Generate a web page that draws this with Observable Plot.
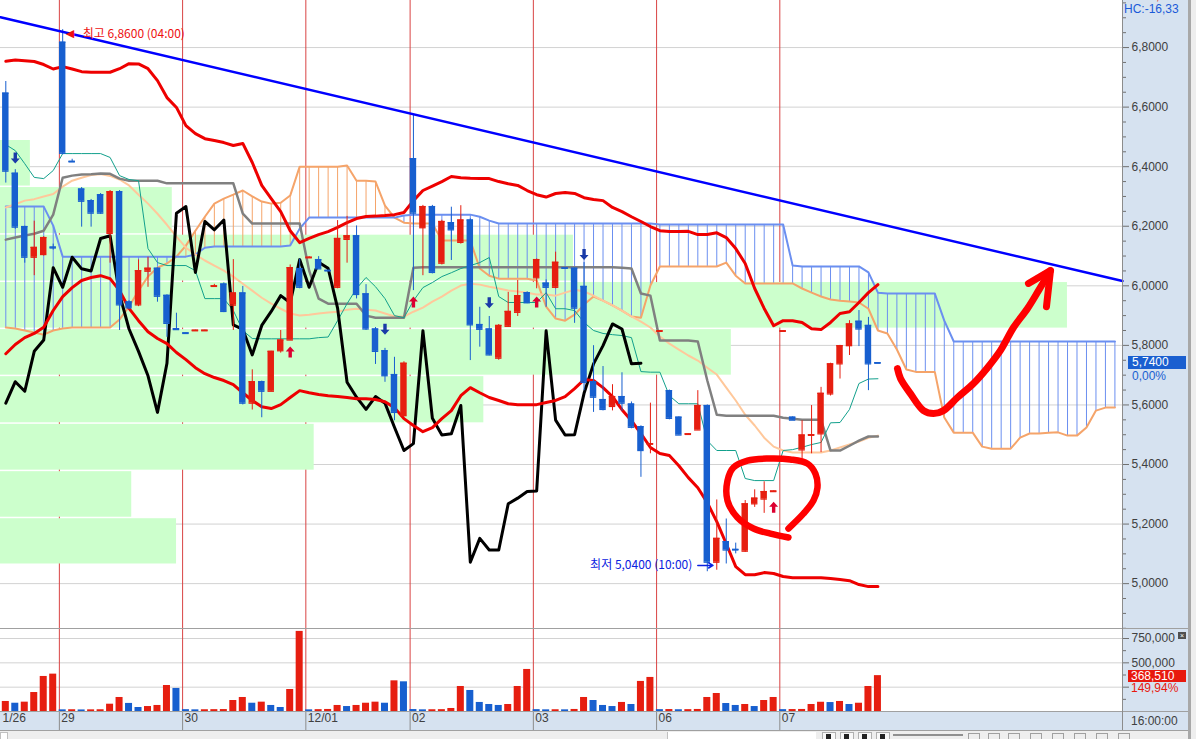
<!DOCTYPE html>
<html><head><meta charset="utf-8">
<script src="https://cdn.jsdelivr.net/npm/d3@7"></script>
<script src="https://cdn.jsdelivr.net/npm/@observablehq/plot@0.6"></script>
<style>
body{margin:0;background:#fff;font-family:'Liberation Sans','Noto Sans CJK KR',sans-serif;}
#root{position:relative;width:1196px;height:739px;overflow:hidden;background:#fff;}
.abs{position:absolute;}
.plotbox{position:absolute;left:0;}
.plotbox svg{display:block;}
</style></head><body><div id="root">
<div class="abs" style="left:1122px;top:0;width:66px;height:730px;background:#d6e2f0"></div>
<div class="abs" style="left:0;top:711px;width:1188px;height:19px;background:#d6e2f0"></div>
<div id="price" class="plotbox" style="top:0"></div>
<div id="vol" class="plotbox" style="top:629px"></div>
</div>
<script>
// ---------- DATA ----------
const open = [6.647,6.378,6.199,6.096,6.105,6.130,6.818,6.418,6.325,6.286,
6.306,6.176,6.316,5.946,5.936,6.049,6.059,5.968,5.856,5.842,
5.849,5.849,5.998,6.006,5.935,5.976,5.606,5.678,5.646,5.782,
5.818,6.058,6.094,6.088,6.052,5.995,6.156,6.168,5.973,5.855,
5.782,5.702,5.564,6.427,6.195,6.266,6.076,6.212,6.146,6.221,
5.870,5.855,5.757,5.864,5.911,5.977,6.027,6.009,5.995,6.060,
6.059,5.998,5.678,5.618,5.595,5.628,5.603,5.527,5.468,5.847,
5.648,5.559,5.501,5.516,5.598,5.072,5.141,5.115,5.109,5.268,
5.284,5.309,5.847,5.559,5.449,5.498,5.503,5.637,5.738,5.799,
5.881,5.867,5.742];
const high = [6.686,6.390,6.200,6.217,6.165,6.140,6.860,6.425,6.330,6.290,
6.310,6.320,6.320,5.950,6.087,6.096,6.060,5.970,5.908,5.842,
5.851,5.851,6.005,6.010,6.088,5.998,5.718,5.680,5.780,5.850,
6.070,6.090,6.098,6.098,6.052,6.219,6.233,6.201,6.004,5.860,
5.790,5.760,5.745,6.572,6.270,6.270,6.220,6.264,6.269,6.225,
5.928,5.897,5.870,5.978,6.018,5.980,6.090,6.020,6.113,6.062,
6.060,6.078,5.799,5.729,5.668,5.708,5.610,5.530,5.606,5.849,
5.650,5.560,5.503,5.648,5.600,5.281,5.217,5.136,5.279,5.315,
5.342,5.311,5.849,5.560,5.547,5.598,5.659,5.740,5.800,5.883,
5.917,5.894,5.742];
const low = [6.345,6.190,6.076,6.034,6.100,6.120,6.440,6.416,6.197,6.197,
6.240,6.076,5.850,5.920,5.930,5.995,5.945,5.827,5.853,5.840,
5.849,5.849,5.998,5.910,5.850,5.600,5.583,5.557,5.645,5.774,
5.818,5.990,6.094,6.057,6.050,5.990,6.076,5.956,5.850,5.736,
5.676,5.547,5.560,5.984,6.034,6.040,6.070,6.085,6.140,5.749,
5.794,5.765,5.750,5.860,5.897,5.940,5.990,5.928,5.990,6.058,
5.874,5.648,5.575,5.580,5.580,5.579,5.520,5.357,5.436,5.847,
5.550,5.499,5.501,5.516,5.040,5.045,5.066,5.100,5.105,5.256,
5.236,5.309,5.847,5.549,5.419,5.436,5.440,5.630,5.687,5.766,
5.796,5.648,5.740];
const close = [6.385,6.197,6.096,6.129,6.162,6.127,6.445,6.416,6.284,6.244,
6.244,6.316,5.936,5.926,6.051,6.059,5.965,5.874,5.853,5.840,
5.851,5.851,6.000,5.914,5.976,5.606,5.678,5.646,5.780,5.818,
6.061,5.995,6.096,6.057,6.050,6.159,6.168,5.971,5.855,5.780,
5.698,5.575,5.740,6.244,6.266,6.045,6.216,6.188,6.221,5.869,
5.854,5.768,5.867,5.914,5.967,5.943,6.088,5.995,6.079,6.059,
5.925,5.676,5.626,5.585,5.628,5.606,5.525,5.447,5.470,5.849,
5.555,5.499,5.503,5.598,5.072,5.152,5.113,5.113,5.268,5.287,
5.309,5.311,5.849,5.549,5.499,5.500,5.639,5.738,5.799,5.872,
5.855,5.738,5.740];
const volume = [103000,85000,96000,195000,360000,384000,17000,18000,16000,17000,
18000,75000,144000,83000,41000,51000,62000,267000,237000,19000,
17000,18000,19000,20000,113000,144000,85000,96000,62000,41000,
226000,823000,17000,19000,21000,62000,51000,62000,85000,96000,
85000,315000,305000,20000,17000,18000,19000,31000,257000,216000,
93000,72000,62000,72000,257000,432000,19000,17000,18000,17000,
21000,144000,113000,62000,51000,93000,72000,309000,350000,19000,
20000,18000,19000,21000,144000,185000,82000,62000,72000,51000,
113000,144000,19000,20000,21000,72000,95000,92000,103000,72000,
85000,257000,368510];
const bbUpper = [6.754,6.758,6.756,6.753,6.743,6.728,6.736,6.728,6.719,6.717,
6.717,6.717,6.729,6.746,6.745,6.729,6.689,6.632,6.599,6.538,
6.511,6.494,6.488,6.481,6.471,6.478,6.414,6.337,6.293,6.249,
6.185,6.145,6.159,6.172,6.182,6.196,6.212,6.226,6.233,6.234,
6.236,6.239,6.246,6.286,6.320,6.335,6.350,6.367,6.363,6.361,
6.360,6.360,6.350,6.343,6.337,6.320,6.306,6.298,6.310,6.313,
6.310,6.296,6.290,6.286,6.263,6.249,6.232,6.216,6.199,6.185,
6.182,6.182,6.183,6.172,6.172,6.178,6.162,6.125,6.075,5.991,
5.924,5.866,5.883,5.883,5.877,5.856,5.853,5.877,5.907,5.913,
5.944,5.977,6.004];
const bbLower = [5.772,5.803,5.826,5.840,5.861,5.917,5.964,5.994,6.018,6.028,
6.034,6.024,5.984,5.924,5.883,5.846,5.823,5.806,5.776,5.752,
5.725,5.705,5.692,5.682,5.668,5.641,5.615,5.594,5.588,5.601,
5.625,5.648,5.641,5.635,5.631,5.628,5.625,5.621,5.621,5.618,
5.611,5.591,5.554,5.531,5.510,5.524,5.554,5.581,5.631,5.658,
5.641,5.625,5.615,5.604,5.601,5.601,5.601,5.608,5.615,5.628,
5.655,5.685,5.682,5.658,5.628,5.584,5.547,5.504,5.457,5.437,
5.430,5.396,5.356,5.322,5.272,5.208,5.134,5.057,5.030,5.030,
5.037,5.034,5.024,5.020,5.020,5.020,5.020,5.017,5.014,5.010,
4.997,4.990,4.990];
const midLine = [6.263,6.274,6.286,6.291,6.300,6.308,6.333,6.353,6.363,6.372,
6.375,6.369,6.357,6.337,6.306,6.276,6.242,6.205,6.165,6.128,
6.105,6.085,6.068,6.051,6.031,6.007,5.984,5.960,5.940,5.923,
5.907,5.900,5.903,5.907,5.910,5.913,5.920,5.923,5.920,5.917,
5.907,5.897,5.897,5.913,5.927,5.947,5.964,5.984,6.001,6.007,
6.004,5.997,5.991,5.984,5.981,5.977,5.971,5.971,5.967,5.977,
5.987,5.981,5.967,5.950,5.934,5.917,5.897,5.880,5.860,5.830,
5.806,5.786,5.766,5.749,5.725,5.702,5.658,5.615,5.567,5.531,
5.490,5.460,5.447,5.440,5.440,5.440,5.440,5.447,5.457,5.467,
5.477,5.490,5.497];
const tenkan = [6.474,6.454,6.410,6.364,6.360,6.387,6.444,6.444,6.444,6.444,
6.444,6.431,6.370,6.357,6.353,6.125,6.078,6.068,6.068,6.068,
6.051,5.957,5.957,5.957,5.917,5.850,5.823,5.822,5.822,5.822,
5.822,5.822,5.822,5.826,5.828,5.883,5.940,5.991,6.028,5.997,
5.957,5.900,5.893,5.950,5.994,6.011,6.031,6.044,6.058,6.068,
6.078,6.095,5.964,5.944,5.944,5.944,5.944,5.977,5.923,5.923,
5.917,5.877,5.850,5.840,5.836,5.833,5.826,5.712,5.710,5.710,
5.631,5.604,5.604,5.604,5.480,5.447,5.447,5.447,5.353,5.346,
5.346,5.346,5.447,5.450,5.458,5.467,5.474,5.540,5.541,5.585,
5.672,5.687,5.688];
const kijun = [6.155,6.162,6.169,6.175,6.185,6.239,6.363,6.370,6.374,6.375,
6.377,6.376,6.360,6.353,6.353,6.353,6.353,6.344,6.344,6.344,
6.344,6.344,6.344,6.344,6.344,6.242,6.209,6.209,6.209,6.209,
6.209,6.209,6.051,5.957,5.940,5.940,5.940,5.940,5.900,5.893,
5.893,5.893,5.893,6.061,6.062,6.062,6.062,6.062,6.062,6.062,
6.062,6.062,6.062,6.062,6.062,6.062,6.062,6.062,6.062,6.062,
6.062,6.062,6.062,6.062,6.062,6.061,6.058,5.974,5.967,5.816,
5.816,5.816,5.816,5.813,5.682,5.567,5.564,5.564,5.564,5.564,
5.564,5.564,5.557,5.554,5.550,5.550,5.550,5.447,5.447,5.463,
5.480,5.494,5.494];
const spanA = [6.266,6.266,6.266,6.266,6.266,6.202,6.098,6.098,6.098,6.098,
6.098,6.098,6.098,6.098,6.098,6.098,6.098,6.098,6.098,6.098,
6.105,6.128,6.132,6.132,6.132,6.132,6.132,6.132,6.132,6.132,
6.135,6.192,6.229,6.229,6.229,6.229,6.229,6.229,6.229,6.229,
6.229,6.229,6.236,6.239,6.239,6.239,6.239,6.239,6.239,6.239,
6.232,6.219,6.209,6.209,6.209,6.209,6.209,6.209,6.209,6.209,
6.209,6.209,6.209,6.209,6.209,6.209,6.209,6.209,6.209,6.206,
6.206,6.206,6.206,6.206,6.206,6.206,6.206,6.206,6.206,6.206,
6.206,6.206,6.206,6.068,6.065,6.065,6.065,6.065,6.065,6.065,
6.065,6.045,5.977,5.974,5.974,5.974,5.974,5.974,5.974,5.883,
5.813,5.813,5.813,5.813,5.813,5.813,5.813,5.813,5.813,5.813,
5.813,5.813,5.813,5.813,5.813,5.813,5.813,5.813];
const spanB = [5.860,5.857,5.850,5.843,5.836,5.850,5.857,5.860,5.860,5.860,
5.860,5.860,5.887,5.930,5.984,6.031,6.061,6.075,6.098,6.135,
6.185,6.232,6.276,6.293,6.306,6.320,6.300,6.283,6.276,6.279,
6.303,6.400,6.400,6.400,6.400,6.400,6.404,6.353,6.353,6.350,
6.269,6.229,6.212,6.209,6.209,6.209,6.152,6.152,6.152,6.152,
6.058,6.034,6.024,6.024,6.024,6.024,6.018,5.930,5.890,5.883,
5.903,5.937,5.964,5.950,5.934,5.917,5.897,5.893,6.001,6.065,
6.065,6.065,6.065,6.065,6.065,6.065,6.078,6.034,6.008,6.008,
6.008,6.008,6.008,6.008,5.991,5.977,5.964,5.954,5.950,5.947,
5.944,5.923,5.850,5.840,5.786,5.719,5.711,5.711,5.711,5.558,
5.507,5.507,5.507,5.460,5.453,5.453,5.453,5.490,5.504,5.504,
5.507,5.508,5.497,5.497,5.524,5.581,5.591,5.591];
const laggingSpan = [5.606,5.678,5.646,5.780,5.818,6.061,5.995,6.096,6.057,6.050,
6.159,6.168,5.971,5.855,5.780,5.698,5.575,5.740,6.244,6.266,
6.045,6.216,6.188,6.221,5.869,5.854,5.768,5.867,5.914,5.967,
5.943,6.088,5.995,6.079,6.059,5.925,5.676,5.626,5.585,5.628,
5.606,5.525,5.447,5.470,5.849,5.555,5.499,5.503,5.598,5.072,
5.152,5.113,5.113,5.268,5.287,5.309,5.311,5.849,5.549,5.499,
5.500,5.639,5.738,5.799,5.872,5.855,5.738,5.740];
const profileEdges = [6.493,6.335,6.175,6.016,5.858,5.700,5.540,5.381,5.223,5.066];
const profileVolume = [0.28,1.61,5.37,10.0,6.85,4.53,2.94,1.23,1.65];
const trendLine = [{i:-0.56,p:6.902},{i:117.8,p:6.016}];
const signalUp = [{i:30,p:5.776},{i:43,p:5.944},{i:56,p:5.944},{i:81,p:5.255}];
const signalDown = [{i:1,p:6.431},{i:40,p:5.856},{i:51,p:5.945},{i:61,p:6.107}];
const dayStart = [6,19,32,43,56,69,82];
const dayLabels = ["1/26","29","30","12/01","02","03","06","07"];
const priceTicks = [5.0,5.2,5.4,5.6,5.8,6.0,6.2,6.4,6.6,6.8];
const volTicks = [0,250000,500000,750000];
const highMark = {i:6,p:6.86,text:"최고 6,8600 (04:00)"};
const lowMark = {i:74,p:5.04,text:"최저 5,0400 (10:00)"};
const lastPrice = 5.74, lastPctText = "0,00%";
const lastVolume = 368510, lastVolPctText = "149,94%";
const circleNote = [{i:82.56,p:5.185},{i:84.14,p:5.235},{i:85.2,p:5.279},{i:85.62,p:5.322},{i:85.41,p:5.369},
{i:84.57,p:5.403},{i:82.77,p:5.417},{i:80.35,p:5.42},{i:78.24,p:5.413},{i:76.76,p:5.39},{i:76.13,p:5.346},
{i:76.13,p:5.279},{i:77.18,p:5.222},{i:78.87,p:5.185},{i:80.66,p:5.168},{i:82.56,p:5.155}];
const arrowNote = [{i:94.06,p:5.722},{i:94.38,p:5.689},{i:95.43,p:5.638},{i:96.81,p:5.581},{i:97.86,p:5.571},
{i:98.91,p:5.581},{i:100.39,p:5.625},{i:102.08,p:5.672},{i:103.56,p:5.725},{i:104.93,p:5.783},
{i:106.3,p:5.86},{i:107.78,p:5.924},{i:108.94,p:5.984},{i:110.2,p:6.051}];
const arrowHead = [{i:107.88,p:6.008},{i:110.2,p:6.051},{i:109.78,p:5.93}];

// ---------- STYLE ----------
const RED = "#e61e10", BLUE = "#175fcf";
const SPAN_A = "#6b8ff0", SPAN_B = "#f5a46a";
const SEP = "#d94444";
const FONT = "'Liberation Sans','Noto Sans CJK KR',sans-serif";
const KFONT = "'Noto Sans CJK KR','Liberation Sans',sans-serif";
const xDomain = [-0.56, 117.8];
const fmtPrice = d => d.toFixed(4).replace(".", ",");
const fmtVol = d => d3.format(",")(d);

const N = close.length;
const candles = d3.range(N).map(i => ({i, o: open[i], h: high[i], l: low[i], c: close[i]}));
const upC = candles.filter(d => d.c >= d.o), dnC = candles.filter(d => d.c < d.o);
const cloud = spanA.map((a, i) => ({i, a, b: spanB[i]}));
const series = (arr) => arr.map((v, i) => ({i, v}));
const profile = profileVolume.map((v, k) => ({hi: profileEdges[k], lo: profileEdges[k + 1], v}));
const profScale = 1067 / 9.48 / d3.max(profileVolume);
const vols = volume.map((v, i) => ({i, v, up: i === 0 || v >= volume[i - 1]}));
const minorPrice = d3.range(97, 140).map(k => k * 0.05).filter(v => Math.abs(v / 0.2 - Math.round(v / 0.2)) > 1e-6);

const upArrow = {draw(ctx) {ctx.moveTo(0,-6);ctx.lineTo(4.5,-1);ctx.lineTo(1.7,-1);ctx.lineTo(1.7,5);ctx.lineTo(-1.7,5);ctx.lineTo(-1.7,-1);ctx.lineTo(-4.5,-1);ctx.closePath();}};
const downArrow = {draw(ctx) {ctx.moveTo(0,6);ctx.lineTo(4.5,1);ctx.lineTo(1.7,1);ctx.lineTo(1.7,-5);ctx.lineTo(-1.7,-5);ctx.lineTo(-1.7,1);ctx.lineTo(-4.5,1);ctx.closePath();}};

const candleMarks = (data, color) => [
  Plot.ruleX(data, {x: "i", y1: "l", y2: "h", stroke: color, strokeWidth: 1}),
  Plot.rect(data, {x1: d => d.i - 0.34, x2: d => d.i + 0.34, y1: "o", y2: "c", fill: color}),
  Plot.ruleY(data, {y: "c", x1: d => d.i - 0.34, x2: d => d.i + 0.34, stroke: color, strokeWidth: 1.3}),
  Plot.ruleY(data, {y: "o", x1: d => d.i - 0.34, x2: d => d.i + 0.34, stroke: color, strokeWidth: 1.3})
];

const price = Plot.plot({
  width: 1196, height: 629,
  marginLeft: 0, marginRight: 74, marginTop: 0, marginBottom: 0,
  x: {domain: xDomain, axis: null, label: null},
  y: {domain: [4.846, 6.958], label: null},
  style: {background: "transparent", fontFamily: FONT, fontSize: "12px", color: "#404040", overflow: "visible"},
  marks: [
    Plot.gridY(priceTicks, {stroke: "#d2d2d2", strokeOpacity: 1}),
    Plot.ruleX(dayStart, {x: d => d - 0.35, stroke: SEP, strokeWidth: 1}),
    Plot.rect(profile, {x1: () => xDomain[0], x2: d => xDomain[0] + d.v * profScale, y1: "lo", y2: "hi", fill: "#ccffcc", insetTop: 1.5}),
    Plot.ruleX(cloud.filter(d => d.a >= d.b), {x: "i", y1: "a", y2: "b", stroke: SPAN_A, strokeWidth: 1}),
    Plot.ruleX(cloud.filter(d => d.a < d.b), {x: "i", y1: "a", y2: "b", stroke: SPAN_B, strokeWidth: 1}),
    Plot.line(cloud, {x: "i", y: "b", stroke: SPAN_B, strokeWidth: 2}),
    Plot.line(cloud, {x: "i", y: "a", stroke: SPAN_A, strokeWidth: 2}),
    Plot.line(series(midLine), {x: "i", y: "v", stroke: "#ffc89b", strokeWidth: 2}),
    Plot.line(series(kijun), {x: "i", y: "v", stroke: "#808080", strokeWidth: 2.5}),
    Plot.line(series(tenkan), {x: "i", y: "v", stroke: "#12a08c", strokeWidth: 1}),
    Plot.line(series(laggingSpan), {x: "i", y: "v", stroke: "#000", strokeWidth: 3, strokeLinejoin: "round"}),
    Plot.line(series(bbUpper), {x: "i", y: "v", stroke: "#ee0000", strokeWidth: 3, strokeLinejoin: "round"}),
    Plot.line(series(bbLower), {x: "i", y: "v", stroke: "#ee0000", strokeWidth: 3, strokeLinejoin: "round"}),
    ...candleMarks(upC, RED),
    ...candleMarks(dnC, BLUE),
    Plot.dot(signalUp, {x: "i", y: "p", symbol: upArrow, fill: "#dc0030", stroke: "none"}),
    Plot.dot(signalDown, {x: "i", y: "p", symbol: downArrow, fill: "#1a3aa8", stroke: "none"}),
    Plot.line(trendLine, {x: "i", y: "p", stroke: "#0000ff", strokeWidth: 2.5}),
    Plot.text([highMark], {x: "i", y: "p", text: () => "◀", textAnchor: "start", dx: 3, dy: 4, fill: "#ee1111", fontSize: 11, fontFamily: "'DejaVu Sans',sans-serif"}),
    Plot.text([highMark], {x: "i", y: "p", text: "text", textAnchor: "start", dx: 20, dy: 4, fill: "#ee1111", fontSize: 12, fontFamily: KFONT}),
    Plot.text([lowMark], {x: "i", y: "p", text: "text", textAnchor: "end", dx: -15, dy: -7, fill: "#0a22e0", fontSize: 12, fontFamily: KFONT}),
    Plot.arrow([lowMark], {x1: d => d.i - 1.0, x2: d => d.i + 0.6, y1: d => d.p + 0.021, y2: d => d.p + 0.021, stroke: "#0a22e0", strokeWidth: 1.5, headLength: 6}),
    Plot.line(circleNote, {x: "i", y: "p", curve: "catmull-rom", stroke: "#ff0000", strokeWidth: 6.5, strokeLinecap: "round", strokeLinejoin: "round"}),
    Plot.line(arrowNote, {x: "i", y: "p", curve: "catmull-rom", stroke: "#ff0000", strokeWidth: 7, strokeLinecap: "round", strokeLinejoin: "round"}),
    Plot.line(arrowHead, {x: "i", y: "p", stroke: "#ff0000", strokeWidth: 7, strokeLinecap: "round", strokeLinejoin: "round"}),
    Plot.axisY(priceTicks, {anchor: "right", tickSize: 6, tickPadding: 3, tickFormat: fmtPrice, fontSize: 12, label: null, stroke: "#707070", fill: "#404040"}),
    Plot.axisY(minorPrice, {anchor: "right", tickSize: 3, tickFormat: () => "", label: null, stroke: "#707070"})
  ]
});
document.getElementById("price").appendChild(price);

const vol = Plot.plot({
  width: 1196, height: 101,
  marginLeft: 0, marginRight: 74, marginTop: 0, marginBottom: 19,
  x: {domain: xDomain, axis: null, label: null},
  y: {domain: [0, 842500], label: null},
  style: {background: "transparent", fontFamily: FONT, fontSize: "12px", color: "#404040", overflow: "visible"},
  marks: [
    Plot.gridY(volTicks.slice(1), {stroke: "#d2d2d2", strokeOpacity: 1}),
    Plot.ruleX(dayStart, {x: d => d - 0.35, stroke: SEP, strokeWidth: 1}),
    Plot.rect(vols.filter(d => d.up), {x1: d => d.i - 0.37, x2: d => d.i + 0.37, y1: 0, y2: "v", fill: RED}),
    Plot.rect(vols.filter(d => !d.up), {x1: d => d.i - 0.37, x2: d => d.i + 0.37, y1: 0, y2: "v", fill: BLUE}),
    Plot.axisY(volTicks, {anchor: "right", tickSize: 6, tickPadding: 3, tickFormat: d => d >= 500000 ? fmtVol(d) : "", fontSize: 12, label: null, stroke: "#707070", fill: "#404040"}),
    Plot.axisY([125000, 375000, 625000], {anchor: "right", tickSize: 3, tickFormat: () => "", label: null, stroke: "#707070"}),
    Plot.axisX(dayStart.map(d => d - 0.35), {tickSize: 19, tickFormat: () => "", label: null, stroke: "#8c8c8c"}),
    Plot.text(dayLabels.map((t, k) => ({t, pos: k === 0 ? xDomain[0] : dayStart[k - 1] - 0.35})),
      {x: "pos", text: "t", frameAnchor: "bottom", dy: 10, dx: 2, textAnchor: "start", fill: "#404040", fontSize: 12})
  ]
});
document.getElementById("vol").appendChild(vol);

// ---------- overlays positioned through the plots' scales ----------
const root = document.getElementById("root");
function addDiv(style, html) { const d = document.createElement("div"); d.className = "abs"; d.setAttribute("style", style); if (html != null) d.textContent = html; root.appendChild(d); return d; }
const yLast = price.scale("y").apply(lastPrice);
addDiv(`left:1128px;top:${yLast - 6.5}px;width:58px;height:13px;background:#1a5fd0;color:#fff;font-size:12px;line-height:13px;padding-left:4px;box-sizing:border-box`, fmtPrice(lastPrice));
addDiv(`left:1132px;top:${yLast + 7}px;color:#1a5fd0;font-size:12px;line-height:12px`, lastPctText);
const yVol = 629 + vol.scale("y").apply(lastVolume);
addDiv(`left:1128px;top:${yVol - 5.5}px;width:58px;height:12px;background:#e8190e;color:#fff;font-size:12px;line-height:12px;padding-left:3px;box-sizing:border-box`, fmtVol(lastVolume));
addDiv(`left:1131px;top:${yVol + 7}px;color:#e8190e;font-size:12px;line-height:12px`, lastVolPctText);
addDiv(`left:1124px;top:-10px;color:#e8190e;font-size:12px;line-height:12px`, "LC:16,88");
addDiv(`left:1124px;top:3px;color:#1a5ad8;font-size:12px;line-height:12px`, "HC:-16,33");
addDiv(`left:1131px;top:714px;color:#404040;font-size:12px;line-height:14px`, "16:00:00");
addDiv(`left:1178px;top:632px;width:8px;height:7px;background:#505050;color:#fff;font-size:7px;line-height:7px;text-align:center`, "×");
// frame lines
addDiv("left:0;top:628px;width:1188px;height:1px;background:#a0a0a0");
addDiv("left:0;top:711px;width:1188px;height:1px;background:#a0a0a0");
addDiv("left:0;top:730px;width:1196px;height:1px;background:#a0a0a0");
addDiv("left:1122px;top:0;width:1px;height:730px;background:#8c8c8c");
addDiv("left:1188px;top:0;width:3px;height:739px;background:#a8a8a8");
addDiv("left:1191px;top:0;width:5px;height:739px;background:#eeeeee");
// toolbar strip
addDiv("left:0;top:731px;width:1188px;height:8px;background:#eeeeee");
addDiv("left:0;top:732px;width:6px;height:7px;background:#fff;border:1px solid #c0c0c0");
addDiv("left:667px;top:732px;width:148px;height:7px;background:#fff;border-left:1px solid #c0c0c0");
[822, 840, 858, 876].forEach(x => { addDiv(`left:${x}px;top:732px;width:12px;height:7px;background:#f8f8f8;border:1px solid #b0b0b0`); addDiv(`left:${x + 4}px;top:734px;width:5px;height:5px;background:#222`); });
addDiv("left:893px;top:734px;width:70px;height:2px;background:#909090");
[968, 988, 1008, 1030, 1052, 1074, 1096, 1118].forEach(x => addDiv(`left:${x}px;top:733px;width:10px;height:6px;border:1px solid #a0a0a0`));
</script>
</body></html>
